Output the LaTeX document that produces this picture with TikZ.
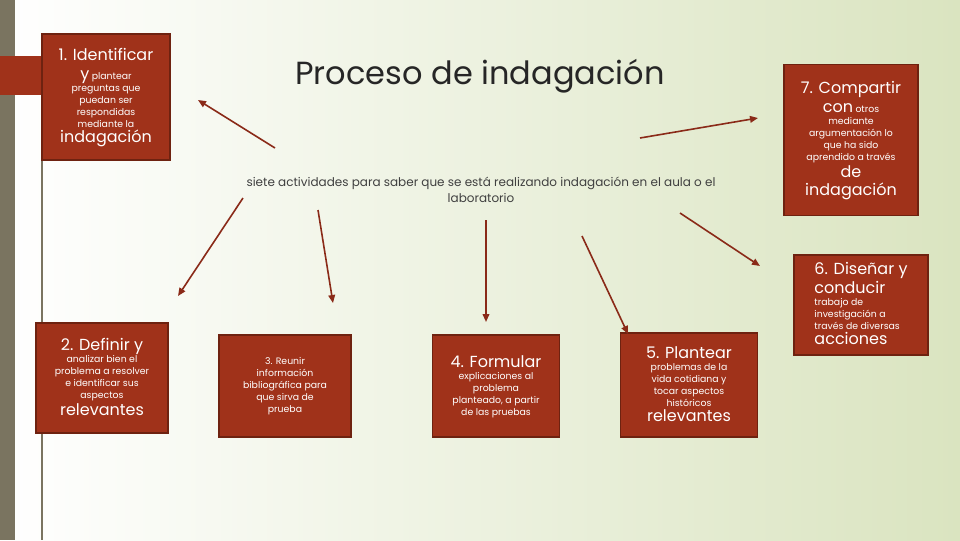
\documentclass[tikz,border=0pt]{standalone}
\usepackage{fontspec}
\setmainfont{Poppins}
\usetikzlibrary{arrows.meta}
\definecolor{boxred}{HTML}{A0321A}
\definecolor{boxedge}{HTML}{6E2210}
\definecolor{arr}{HTML}{8A2A18}
\definecolor{bgg}{HTML}{DAE4C0}
\definecolor{strip}{HTML}{7A7460}
\newcommand{\Bg}[1]{{\fontsize{12}{14}\selectfont #1}\rule[-3pt]{0pt}{13pt}}
\begin{document}
\begin{tikzpicture}[x=0.75pt,y=-0.75pt,
  box/.style={fill=boxred,draw=boxedge,line width=1pt,text=white,align=center,inner sep=2pt,font=\fontsize{7}{9}\selectfont},
  ar/.style={draw=arr,line width=1.2pt,-{Triangle[length=6pt,width=5pt]}}]
\useasboundingbox (0,0) rectangle (960,540);
\shade[left color=white,middle color=white!60!bgg,right color=bgg] (0,0) rectangle (960,540);
\fill[strip] (0,0) rectangle (15,540);
\draw[strip,line width=1pt] (42,160) -- (42,540);
\fill[boxred] (0,56) rectangle (44,95);
% boxes
\node[box,minimum width=128*0.75pt,minimum height=126*0.75pt] (b1) at (106,97)
 {\Bg{1. Identificar}\\ \Bg{y} plantear\\ preguntas que\\ puedan ser\\ respondidas\\ mediante la\\ \Bg{indagación}};
\node[box,minimum width=134*0.75pt,minimum height=151*0.75pt] (b7) at (851,140)
 {\Bg{7. Compartir}\\ \Bg{con} otros\\ mediante\\ argumentación lo\\ que ha sido\\ aprendido a través\\ \Bg{de}\\ \Bg{indagación}};
\node[box,minimum width=134*0.75pt,minimum height=100*0.75pt,align=left] (b6) at (861,305)
 {\Bg{6. Diseñar y}\\ \Bg{conducir}\\ trabajo de\\ investigación a\\ través de diversas\\ \Bg{acciones}};
\node[box,minimum width=132*0.75pt,minimum height=110*0.75pt] (b2) at (102,378)
 {\Bg{2. Definir y}\\ analizar bien el\\ problema a resolver\\ e identificar sus\\ aspectos\\ \Bg{relevantes}};
\node[box,minimum width=132*0.75pt,minimum height=102*0.75pt] (b3) at (285,386)
 {3. Reunir\\ información\\ bibliográfica para\\ que sirva de\\ prueba};
\node[box,minimum width=127*0.75pt,minimum height=102*0.75pt] (b4) at (496,386)
 {\Bg{4. Formular}\\ explicaciones al\\ problema\\ planteado, a partir\\ de las pruebas};
\node[box,minimum width=137*0.75pt,minimum height=104*0.75pt] (b5) at (689,385)
 {\Bg{5. Plantear}\\ problemas de la\\ vida cotidiana y\\ tocar aspectos\\ históricos\\ \Bg{relevantes}};
% title and subtitle
\node[font=\fontsize{24}{26}\selectfont\addfontfeatures{FakeBold=0},text=black!85] (t) at (480,76) {Proceso de indagación};
\node[font=\fontsize{9}{12}\selectfont,text=black!75,align=center] (s) at (481,190)
 {siete actividades para saber que se está realizando indagación en el aula o el\\ laboratorio};
% arrows
\coordinate (o1) at (275,148); \coordinate (e1) at (198,100);
\coordinate (o7) at (640,138); \coordinate (e7) at (758,118);
\coordinate (o2) at (243,198); \coordinate (e2) at (178,296);
\coordinate (o3) at (318,210); \coordinate (e3) at (333,303);
\coordinate (o4) at (486,220); \coordinate (e4) at (486,322);
\coordinate (o5) at (582,236); \coordinate (e5) at (628,334);
\coordinate (o6) at (680,213); \coordinate (e6) at (760,266);
\foreach \i in {1,...,7} \draw[ar] (o\i) -- (e\i);
\end{tikzpicture}
\end{document}
